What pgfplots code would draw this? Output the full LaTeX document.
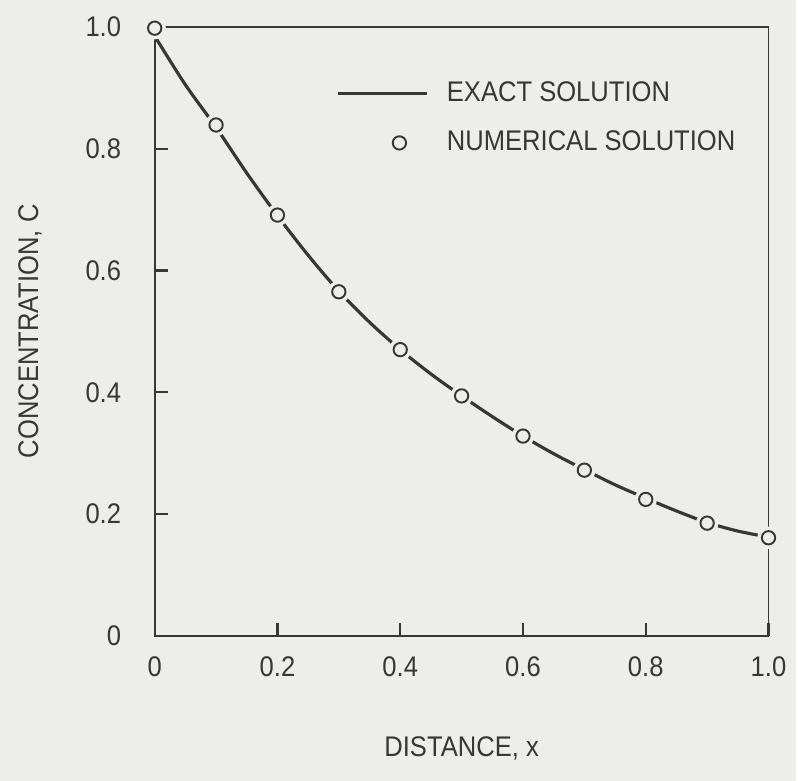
\documentclass[border=0pt]{standalone}
\usepackage{fontspec}
\setmainfont{Liberation Sans}[FakeStretch=0.9]
\usepackage{pgfplots}
\pgfplotsset{compat=1.18}

\definecolor{paper}{RGB}{237,237,235}
\definecolor{ink}{RGB}{55,55,55}

\begin{document}
\begin{tikzpicture}
% page background (scanned paper tone)
\fill[paper] (-1.55,-1.45) rectangle (6.43,6.37);
\begin{axis}[
  at={(0,0)}, anchor=south west,
  scale only axis, width=6.15cm, height=6.10cm,
  xmin=0, xmax=1, ymin=0, ymax=1,
  font=\fontsize{8.1}{9}\selectfont, color=ink,
  axis line style={ink, line width=0.5pt},
  xtick={0,0.2,0.4,0.6,0.8,1.0}, xticklabels={0,0.2,0.4,0.6,0.8,1.0},
  ytick={0,0.2,0.4,0.6,0.8,1.0}, yticklabels={0,0.2,0.4,0.6,0.8,1.0},
  xtick pos=bottom, ytick pos=left, tick align=inside,
  major tick length=0.13cm,
  every tick/.style={ink, line width=0.6pt},
  xticklabel style={anchor=center, yshift=-0.31cm},
  yticklabel style={anchor=east, inner sep=0pt, xshift=-0.33cm},
  /pgf/number format/assume math mode=true,
  every axis x label/.style={at={(rel axis cs:0.5,0)}, yshift=-1.13cm, anchor=center},
  every axis y label/.style={at={(rel axis cs:0,0.5)}, xshift=-1.25cm, rotate=90, anchor=center},
  xlabel={DISTANCE, x}, ylabel={CONCENTRATION, C},
  legend cell align=left,
  legend style={at={(axis cs:0.277,0.935)}, anchor=north west, draw=none, fill=none,
    font=\fontsize{8.1}{9}\selectfont, row sep=0.1cm, text=ink},
  clip=false,
]
\addplot[ink, line width=0.9pt, smooth,
  legend image code/.code={\draw[ink, line width=0.9pt] (0cm,0cm) -- (0.9cm,0cm); \path (1.01cm,0cm);}]
  coordinates {
  (0,0.985) (0.05,0.905) (0.1,0.835) (0.15,0.76) (0.2,0.69) (0.25,0.625)
  (0.3,0.566) (0.35,0.515) (0.4,0.47) (0.45,0.43) (0.5,0.394) (0.55,0.36)
  (0.6,0.328) (0.65,0.299) (0.7,0.273) (0.75,0.248) (0.8,0.226) (0.85,0.205)
  (0.9,0.186) (0.95,0.172) (1.0,0.162)};
\addlegendentry{EXACT SOLUTION}
% gaps in the curve around each numerical point
\addplot[paper, only marks, mark=*, mark size=3.0pt, mark options={fill=paper, draw=paper}, forget plot]
  coordinates {
  (0,0.998) (0.1,0.839) (0.2,0.691) (0.3,0.565) (0.4,0.470) (0.5,0.394)
  (0.6,0.328) (0.7,0.272) (0.8,0.224) (0.9,0.185) (1.0,0.161)};
\addplot[ink, only marks, mark=o, mark size=1.9pt, mark options={draw=ink, line width=0.55pt},
  legend image code/.code={\draw[mark=o, mark size=1.9pt, mark options={draw=ink, line width=0.55pt}, only marks] plot coordinates {(0.62cm,0cm)};}]
  coordinates {
  (0,0.998) (0.1,0.839) (0.2,0.691) (0.3,0.565) (0.4,0.470) (0.5,0.394)
  (0.6,0.328) (0.7,0.272) (0.8,0.224) (0.9,0.185) (1.0,0.161)};
\addlegendentry{NUMERICAL SOLUTION}
\end{axis}
\end{tikzpicture}
\end{document}
